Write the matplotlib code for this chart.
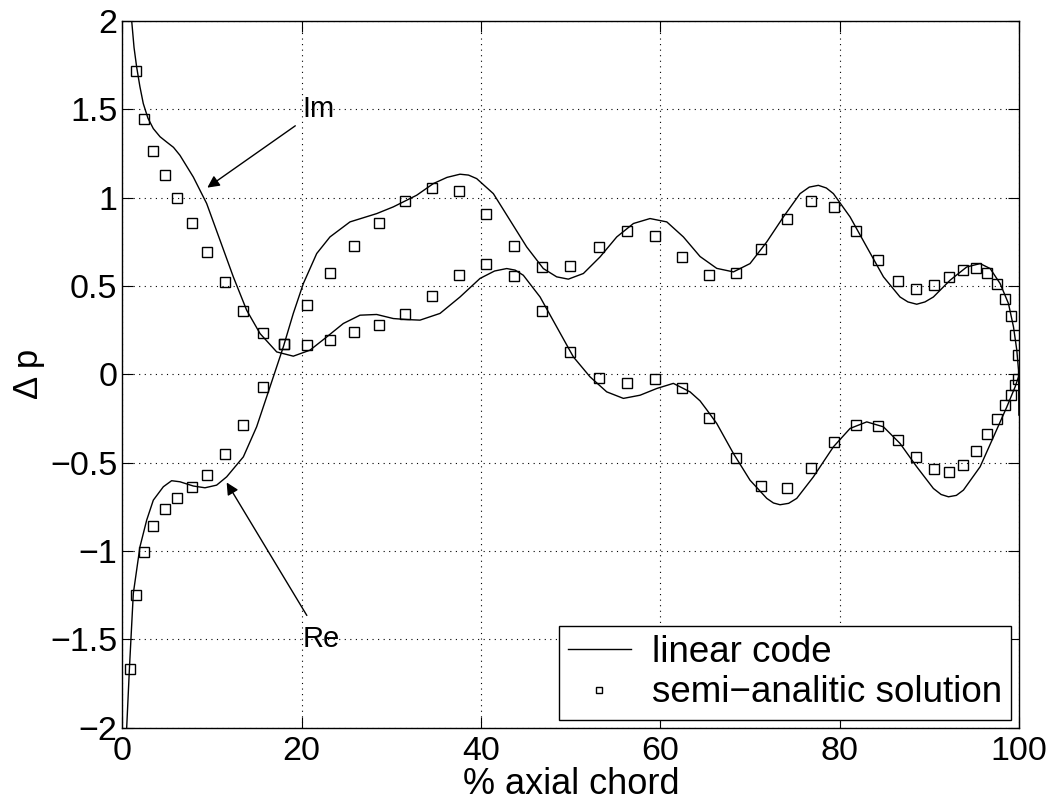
import numpy as np
import matplotlib
matplotlib.use("Agg")
import matplotlib.pyplot as plt

plt.rcParams['font.family'] = ['Liberation Sans', 'DejaVu Sans']

re_line_x = [0.48, 0.80, 1.22, 1.96, 2.71, 3.45, 4.57, 5.49, 6.42, 7.91, 9.21, 10.51, 11.63, 13.49, 14.97,
             16.46, 17.95, 19.06, 20.18, 21.67, 23.15, 25.38, 28.36, 30.21, 32.82, 34.68, 36.20, 37.65,
             38.60, 39.51, 41.37, 43.23, 45.09, 46.94, 48.43, 49.73, 51.41, 53.27, 55.13, 56.99, 58.84,
             60.71, 62.56, 64.42, 66.28, 68.14, 69.99, 71.86, 73.71, 75.57, 76.60, 77.61, 78.50, 79.29,
             81.15, 83.01, 84.87, 86.72, 87.60, 88.58, 89.50, 90.44, 92.30, 94.16, 95.65, 96.77, 97.88,
             98.81, 99.37, 99.74, 99.93, 100.0]
re_line_y = [-2.0, -1.65, -1.24, -0.976, -0.825, -0.712, -0.636, -0.602, -0.608, -0.632, -0.642, -0.627,
             -0.580, -0.467, -0.297, -0.071, 0.156, 0.345, 0.514, 0.684, 0.778, 0.863, 0.910, 0.948,
             1.014, 1.080, 1.115, 1.133, 1.128, 1.108, 1.023, 0.872, 0.721, 0.599, 0.552, 0.539, 0.571,
             0.665, 0.778, 0.854, 0.882, 0.863, 0.778, 0.667, 0.600, 0.580, 0.627, 0.750, 0.891, 1.023,
             1.060, 1.070, 1.055, 1.023, 0.891, 0.721, 0.552, 0.438, 0.410, 0.397, 0.410, 0.438, 0.533,
             0.608, 0.627, 0.599, 0.514, 0.401, 0.269, 0.137, 0.024, -0.23]

# linear code, imaginary part
im_line_x = [1.04, 1.30, 1.59, 1.95, 2.33, 2.85, 3.45, 4.20, 4.94, 5.70, 6.42, 7.91, 9.40, 10.89, 12.37,
             13.86, 15.35, 17.21, 19.06, 20.92, 22.79, 24.64, 26.50, 28.36, 30.21, 31.80, 33.19, 35.42,
             37.65, 39.88, 41.50, 42.86, 43.80, 44.71, 46.58, 48.43, 50.29, 52.15, 54.01, 55.87, 57.73,
             59.59, 61.44, 63.30, 64.42, 65.16, 66.28, 68.14, 69.99, 71.86, 72.60, 73.34, 74.30, 75.20,
             77.06, 79.29, 81.15, 83.01, 84.87, 86.72, 88.58, 90.44, 91.30, 92.12, 93.00, 93.79, 95.65,
             97.14, 98.63, 99.55, 99.93, 100.0, 100.0]
im_line_y = [2.0, 1.85, 1.74, 1.63, 1.533, 1.45, 1.391, 1.345, 1.315, 1.285, 1.240, 1.117, 0.967, 0.759,
             0.552, 0.363, 0.231, 0.127, 0.103, 0.137, 0.212, 0.288, 0.335, 0.339, 0.316, 0.310, 0.307,
             0.345, 0.438, 0.543, 0.585, 0.599, 0.590, 0.561, 0.438, 0.269, 0.099, -0.014, -0.099,
             -0.136, -0.118, -0.080, -0.051, -0.099, -0.15, -0.20, -0.278, -0.448, -0.599, -0.702,
             -0.728, -0.738, -0.730, -0.702, -0.580, -0.410, -0.306, -0.269, -0.297, -0.391, -0.523,
             -0.646, -0.680, -0.693, -0.685, -0.655, -0.523, -0.354, -0.184, -0.071, -0.014, 0.02, -0.23]

# semi-analitic solution
re_semi_x = [0.85, 1.52, 2.37, 3.45, 4.71, 6.13, 7.76, 9.47, 11.44, 13.49, 15.72, 18.06, 20.59, 23.15,
             25.87, 28.65, 31.56, 34.53, 37.58, 40.59, 43.71, 46.83, 49.96, 53.12, 56.24, 59.37, 62.41,
             65.46, 68.40, 71.26, 74.09, 76.80, 79.40, 81.85, 84.24, 86.47, 88.55, 90.49, 92.23, 93.79,
             95.24, 96.43, 97.51, 98.40, 99.11, 99.55, 99.89]
re_semi_y = [-1.668, -1.251, -1.008, -0.857, -0.763, -0.697, -0.640, -0.567, -0.453, -0.286, -0.071,
             0.171, 0.390, 0.574, 0.725, 0.859, 0.980, 1.057, 1.038, 0.910, 0.727, 0.608, 0.616, 0.721,
             0.812, 0.786, 0.665, 0.561, 0.573, 0.708, 0.882, 0.980, 0.946, 0.812, 0.650, 0.531, 0.486,
             0.505, 0.552, 0.590, 0.601, 0.573, 0.514, 0.429, 0.329, 0.222, 0.110]
im_semi_x = re_semi_x[1:]
im_semi_y = [1.72, 1.448, 1.267, 1.127, 0.997, 0.855, 0.693, 0.522, 0.359, 0.235, 0.171, 0.169, 0.197,
             0.237, 0.278, 0.339, 0.442, 0.563, 0.627, 0.559, 0.359, 0.127, -0.023, -0.050, -0.029,
             -0.078, -0.248, -0.472, -0.631, -0.644, -0.531, -0.382, -0.289, -0.293, -0.372, -0.470,
             -0.536, -0.551, -0.512, -0.434, -0.340, -0.250, -0.174, -0.114, -0.063, -0.029]

fig = plt.figure(figsize=(10.55, 8.09), dpi=100)
ax = fig.add_axes([0.116, 0.1005, 0.85, 0.8735])

ax.plot(re_line_x, re_line_y, color='black', lw=1.0, label='linear code')
ax.plot(im_line_x, im_line_y, color='black', lw=1.0)
ax.plot(re_semi_x, re_semi_y, ls='none', marker='s', ms=6.6, mfc='none', mec='black', mew=1.0,
        label='semi\u2212analitic solution')
ax.plot(im_semi_x, im_semi_y, ls='none', marker='s', ms=6.6, mfc='none', mec='black', mew=1.0)

ax.set_xlim(0, 100)
ax.set_ylim(-2, 2)
ax.set_xticks([0, 20, 40, 60, 80, 100])
ax.set_yticks([-2, -1.5, -1, -0.5, 0, 0.5, 1, 1.5, 2])
ax.set_yticklabels(['\u22122', '\u22121.5', '\u22121', '\u22120.5', '0', '0.5', '1', '1.5', '2'])
ax.grid(True, ls=(0, (1, 4)), color='black', lw=0.8)
ax.tick_params(direction='in', length=8, top=True, right=True, labelsize=24.5)
ax.tick_params(axis='y', pad=3.5)
ax.tick_params(axis='x', pad=6)
for s in ax.spines.values():
    s.set_linewidth(1.0)

ax.set_xlabel('% axial chord', fontsize=26, labelpad=0)
ax.set_ylabel('\u0394 p', fontsize=25, labelpad=4)

ax.annotate('Im', xy=(9.47, 1.057), xytext=(20.1, 1.50), fontsize=21, va='center', ha='left',
            arrowprops=dict(arrowstyle='-|>', color='black', lw=1.0, mutation_scale=18,
                            shrinkA=4, shrinkB=0))
ax.annotate('Re', xy=(11.63, -0.612), xytext=(20.1, -1.50), fontsize=21, va='center', ha='left',
            arrowprops=dict(arrowstyle='-|>', color='black', lw=1.0, mutation_scale=18,
                            shrinkA=6, shrinkB=0))

leg = ax.legend(loc='lower right', fontsize=26.5, frameon=True, fancybox=False, markerscale=0.75,
                borderaxespad=0.22, handlelength=1.7, handletextpad=0.57, borderpad=0.25,
                labelspacing=0.15)
leg.get_frame().set_edgecolor('black')
leg.get_frame().set_linewidth(1.0)
leg.get_frame().set_alpha(1.0)

fig.savefig('out.png', dpi=100)
